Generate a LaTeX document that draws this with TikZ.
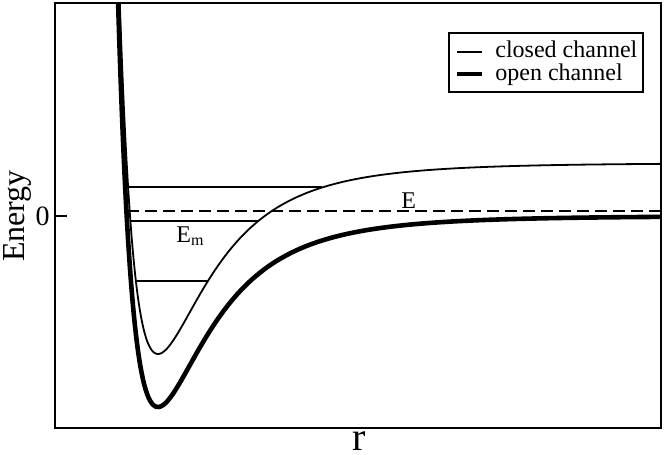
\documentclass[tikz,border=0pt]{standalone}
\usepackage{fontspec}
\setmainfont{Liberation Serif}
\usetikzlibrary{positioning, calc}

\tikzset{
  closedch/.style={line width=0.9pt},
  opench/.style={line width=2.3pt},
  level/.style={line width=0.9pt},
  elevel/.style={line width=0.9pt, dash pattern=on 6pt off 3pt},
  lbl/.style={font=\fontsize{12}{14}\selectfont, inner sep=0pt}
}

\begin{document}
\begin{tikzpicture}[x=0.5pt, y=0.5pt,
    declare function={vo(\x)=191*((287/(\x+129))^12-2*(287/(\x+129))^6);}]
    \useasboundingbox (0,-239) rectangle (664,216);
    % frame and axis
    \draw[line width=0.7pt] (55,-212) rectangle (661,213);
    \draw[line width=0.7pt] (55,0) -- (67,0);
    \node[font=\fontsize{14}{16}\selectfont, anchor=east, inner sep=0pt] (zero) at (50,0) {0};
    \node[font=\fontsize{16}{18}\selectfont, inner sep=0pt, rotate=90, anchor=base] (ylab) at (24,0) {Energy};
    \node[font=\fontsize{20}{22}\selectfont, anchor=base, inner sep=0pt] (xlab) at (359,-234) {r};
    % potential curves
    \begin{scope}
      \clip (55,-212) rectangle (661,213);
      \draw[opench] plot[domain=116:661, samples=320, smooth] (\x,{vo(\x)});
      \draw[closedch] plot[domain=118:661, samples=320, smooth] (\x,{vo(\x)+53});
    \end{scope}
    % levels
    \draw[level] (128,29) -- (322,29);
    \draw[elevel] (127,5) -- (661,5);
    \draw[level] (130,-5) -- (258,-5);
    \draw[level] (136,-65) -- (208,-65);
    \node[lbl, anchor=base west] (elab) at (401,8) {E};
    \node[lbl, anchor=base west] (emlab) at (176,-26) {E\textsubscript{m}};
    % legend
    \draw[line width=0.6pt] (449,124) rectangle (643,183);
    \node[lbl, anchor=base west] (closedtxt) at (495,158) {closed channel};
    \node[lbl, anchor=base west] (opentxt) at (495,135) {open channel};
    \draw[closedch] (457,164) -- (482,164);
    \draw[opench] (457,142) -- (482,142);
\end{tikzpicture}
\end{document}
